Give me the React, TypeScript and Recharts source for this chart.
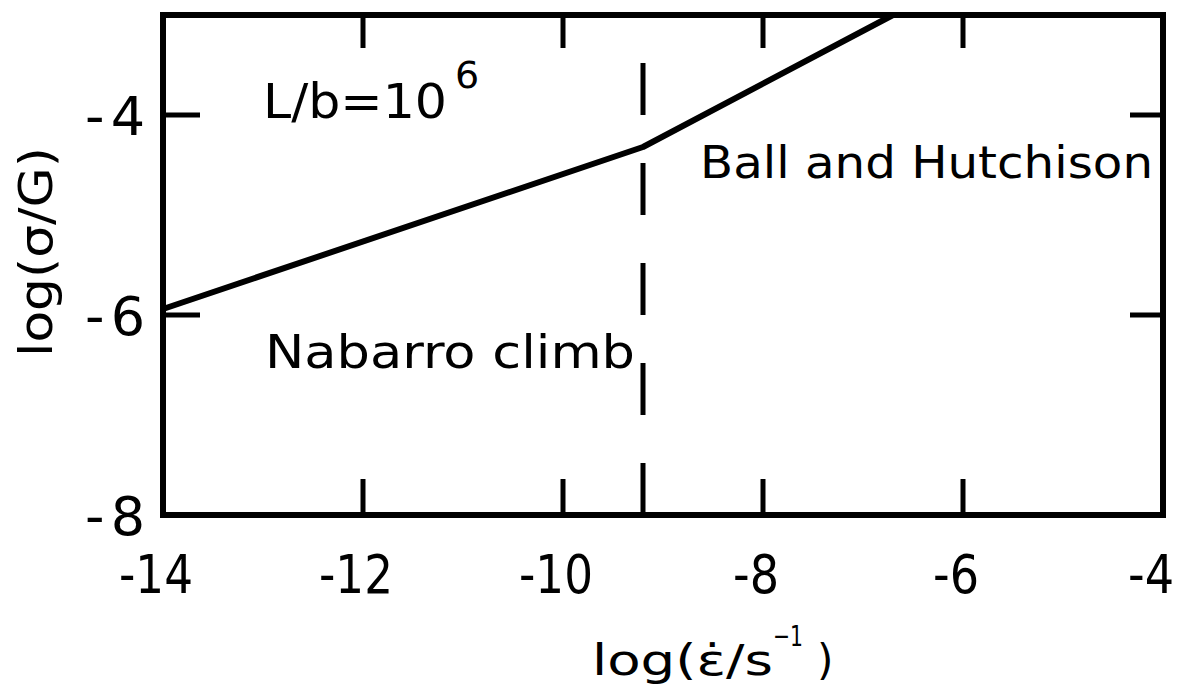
import { LineChart, Line, XAxis, YAxis, ReferenceLine, ReferenceArea } from "recharts"

// log strain rate vs log normalised stress, L/b = 10^6
const strainRate = [-14, -9.2, -6.7]
const stressRatio = [-5.94, -4.32, -3.0]

const xTicks = [-14, -12, -10, -8, -6, -4]
const yTicks = [-8, -6, -4]
const xInnerTicks = [-12, -10, -8, -6]
const yInnerTicks = [-6, -4]
const transitionRate = -9.2

const FONT = "'DejaVu Sans', sans-serif"
const INK = "#000"
const STROKE = 6

const data = strainRate.map((x, i) => ({ x, y: stressRatio[i] }))

function XTick({ x, y, payload }: any) {
  const label = String(payload.value)
  const last = payload.value === xTicks[xTicks.length - 1]
  return (
    <text
      x={last ? x - 12 : x - 7}
      y={y + 78}
      textAnchor="middle"
      fontSize={54}
      fontFamily={FONT}
      fill={INK}
      textLength={label.length > 2 ? 74 : 46}
      lengthAdjust="spacingAndGlyphs"
    >
      {label}
    </text>
  )
}

function YTick({ x, y, payload }: any) {
  return (
    <text
      x={x - 18}
      y={y + 20}
      textAnchor="end"
      fontSize={54}
      fontFamily={FONT}
      fill={INK}
      textLength={60}
      lengthAdjust="spacing"
    >
      {String(payload.value)}
    </text>
  )
}

export default function App() {
  return (
    <div style={{ position: "absolute", top: 0, left: 0, width: 1181, height: 695, background: "#fff" }}>
      <LineChart width={1181} height={695} data={data} margin={{ top: 15, right: 18, bottom: 0, left: 0 }}>
        <XAxis
          dataKey="x"
          type="number"
          domain={[-14, -4]}
          ticks={xTicks}
          axisLine={false}
          tickLine={false}
          tickSize={0}
          tickMargin={0}
          height={180}
          tick={<XTick />}
        />
        <YAxis
          type="number"
          domain={[-8, -3]}
          ticks={yTicks}
          axisLine={false}
          tickLine={false}
          tickSize={0}
          tickMargin={0}
          width={163}
          tick={<YTick />}
        />

        {/* frame */}
        <ReferenceArea x1={-14} x2={-4} y1={-8} y2={-3} fill="none" fillOpacity={0} stroke={INK} strokeWidth={STROKE} />

        {/* inward tick marks */}
        {xInnerTicks.map((v) => (
          <ReferenceLine key={`b${v}`} segment={[{ x: v, y: -8 }, { x: v, y: -7.64 }]} stroke={INK} strokeWidth={5} />
        ))}
        {xInnerTicks.map((v) => (
          <ReferenceLine key={`t${v}`} segment={[{ x: v, y: -3 }, { x: v, y: -3.33 }]} stroke={INK} strokeWidth={5} />
        ))}
        {yInnerTicks.map((v) => (
          <ReferenceLine key={`l${v}`} segment={[{ x: -14, y: v }, { x: -13.63, y: v }]} stroke={INK} strokeWidth={5} />
        ))}
        {yInnerTicks.map((v) => (
          <ReferenceLine key={`r${v}`} segment={[{ x: -4, y: v }, { x: -4.33, y: v }]} stroke={INK} strokeWidth={5} />
        ))}

        {/* mechanism boundary */}
        <ReferenceLine
          segment={[{ x: transitionRate, y: -3.48 }, { x: transitionRate, y: -8 }]}
          stroke={INK}
          strokeWidth={5}
          strokeDasharray="52 48"
        />

        <Line
          type="linear"
          dataKey="y"
          stroke={INK}
          strokeWidth={STROKE}
          strokeLinejoin="round"
          dot={false}
          activeDot={false}
          isAnimationActive={false}
        />

        <text fontFamily={FONT} fill={INK}>
          <tspan x={263} y={118} fontSize={48} textLength={184} lengthAdjust="spacingAndGlyphs">L/b=10</tspan>
          <tspan x={455} y={88} fontSize={38}>6</tspan>
        </text>
        <text x={700} y={178} fontSize={44} fontFamily={FONT} fill={INK} textLength={453} lengthAdjust="spacingAndGlyphs">
          Ball and Hutchison
        </text>
        <text x={265} y={368} fontSize={46} fontFamily={FONT} fill={INK} textLength={370} lengthAdjust="spacingAndGlyphs">
          Nabarro  climb
        </text>

        {/* axis titles */}
        <text fontFamily={FONT} fill={INK}>
          <tspan x={592} y={675} fontSize={42} textLength={181} lengthAdjust="spacingAndGlyphs">log(ε̇/s</tspan>
          <tspan x={773} y={646} fontSize={29} textLength={30} lengthAdjust="spacingAndGlyphs">−1</tspan>
          <tspan x={817} y={675} fontSize={42}>)</tspan>
        </text>
        <text
          x={52}
          y={252}
          transform="rotate(-90 52 252)"
          textAnchor="middle"
          fontSize={46}
          fontFamily={FONT}
          fill={INK}
          textLength={210}
          lengthAdjust="spacingAndGlyphs"
        >
          log(σ/G)
        </text>
      </LineChart>
    </div>
  )
}
